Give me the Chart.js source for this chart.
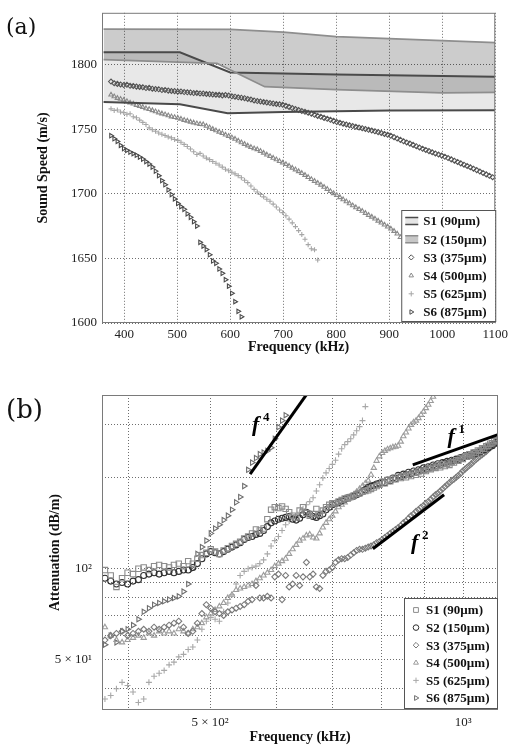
<!DOCTYPE html>
<html>
<head>
<meta charset="utf-8">
<script src="https://cdn.jsdelivr.net/npm/chart.js@4.4.0/dist/chart.umd.min.js"></script>
<style>
  body { margin: 0; background: #fff; }
  #wrap { position: relative; width: 512px; height: 747px; overflow: hidden; }
  canvas { position: absolute; left: 0; }
  .panel { position: absolute; left: 6px; font-family: "DejaVu Serif", serif; color: #111; }
</style>
</head>
<body>
<div id="wrap">
  <canvas id="speedChart" width="512" height="370" style="top:0"></canvas>
  <canvas id="attChart" width="512" height="377" style="top:370px"></canvas>
  <div class="panel" style="top:16px;font-size:22px;line-height:22px">(a)</div>
  <div class="panel" style="top:396px;font-size:26px;line-height:26px">(b)</div>
</div>
<script>
// noms des échantillons (légende)
const sampleNames = ['S1 (90µm)', 'S2 (150µm)', 'S3 (375µm)', 'S4 (500µm)', 'S5 (625µm)', 'S6 (875µm)'];

// grille de fréquences commune (kHz)
const freq = [
  375, 381, 387, 393, 399, 405, 411, 417, 423, 429,
  435, 441, 447, 453, 459, 465, 471, 477, 483, 489,
  495, 501, 507, 513, 519, 525, 531, 537, 543, 549,
  555, 561, 567, 573, 579, 585, 591, 597, 603, 609,
  615, 621, 627, 633, 639, 645, 651, 657, 663, 669,
  675, 681, 687, 693, 699, 705, 711, 717, 723, 729,
  735, 741, 747, 753, 759, 765, 771, 777, 783, 789,
  795, 801, 807, 813, 819, 825, 831, 837, 843, 849,
  855, 861, 867, 873, 879, 885, 891, 897, 903, 909,
  915, 921, 927, 933, 939, 945, 951, 957, 963, 969,
  975, 981, 987, 993, 999, 1005, 1011, 1017, 1023, 1029,
  1035, 1041, 1047, 1053, 1059, 1065, 1071, 1077, 1083, 1089,
  1095
];

// ---- (a) vitesse du son ----
const xTicksA = [400, 500, 600, 700, 800, 900, 1000, 1100];
const yTicksA = [1600, 1650, 1700, 1750, 1800];

// bandes S1 et S2 (bornes haute / basse)
const s1UpperFreq = [361, 505, 600, 800, 1100];
const s1UpperSpeed = [1809.4, 1809.4, 1793.8, 1792.2, 1790.6];
const s1LowerFreq = [361, 505, 595, 700, 900, 1100];
const s1LowerSpeed = [1771, 1769.2, 1762.2, 1763.3, 1764.5, 1764.7];
const s2UpperFreq = [361, 600, 700, 800, 900, 1000, 1100];
const s2UpperSpeed = [1827.4, 1827.2, 1825, 1821.6, 1820, 1818.5, 1817];
const s2LowerFreq = [361, 530, 575, 665, 800, 1000, 1100];
const s2LowerSpeed = [1803.8, 1801.5, 1800.8, 1782.8, 1780.5, 1778, 1778.4];

const speedS3 = [
  1786.8, 1785.5, 1785.0, 1784.6, 1784.1, 1784.3, 1783.5, 1783.4, 1782.9, 1782.6,
  1782.4, 1781.8, 1781.9, 1781.3, 1781.0, 1780.8, 1780.2, 1780.3, 1779.8, 1779.5,
  1779.4, 1779.0, 1779.1, 1778.7, 1778.5, 1778.4, 1777.9, 1778.0, 1777.6, 1777.5,
  1777.2, 1777.1, 1776.8, 1776.6, 1776.5, 1776.1, 1776.4, 1776.0, 1775.4, 1775.1,
  1774.6, 1774.3, 1773.9, 1773.3, 1772.9, 1772.2, 1771.7, 1771.4, 1771.0, 1770.6,
  1770.2, 1769.9, 1769.5, 1769.2, 1768.8, 1768.0, 1767.2, 1766.3, 1765.5, 1764.8,
  1764.0, 1763.4, 1762.7, 1762.0, 1761.1, 1760.2, 1759.5, 1758.7, 1758.0, 1757.2,
  1756.4, 1755.5, 1754.9, 1754.2, 1753.6, 1753.0, 1752.4, 1751.8, 1751.2, 1750.7,
  1750.1, 1749.5, 1748.9, 1748.3, 1747.7, 1747.0, 1746.3, 1745.6, 1744.8, 1743.8,
  1742.7, 1741.7, 1740.6, 1739.7, 1738.8, 1737.8, 1736.8, 1735.8, 1734.8, 1733.9,
  1733.0, 1732.1, 1731.2, 1730.3, 1729.5, 1728.6, 1727.6, 1726.6, 1725.6, 1724.6,
  1723.5, 1722.5, 1721.5, 1720.5, 1719.4, 1718.3, 1717.2, 1716.1, 1715.0, 1713.9,
  1712.8
];
const speedS4 = [
  1776.6, 1775.2, 1774.0, 1773.3, 1772.5, 1771.5, 1770.4, 1769.6, 1768.6, 1767.8,
  1767.0, 1766.0, 1765.4, 1764.5, 1763.6, 1762.8, 1762.0, 1761.3, 1760.5, 1759.7,
  1759.2, 1758.6, 1757.9, 1757.0, 1756.4, 1755.6, 1755.0, 1754.3, 1753.9, 1753.6,
  1752.4, 1751.2, 1750.0, 1748.9, 1747.9, 1746.8, 1745.6, 1744.6, 1743.5, 1742.4,
  1741.0, 1739.6, 1738.4, 1737.2, 1736.0, 1735.0, 1734.3, 1733.0, 1731.6, 1730.2,
  1729.0, 1727.7, 1726.5, 1725.2, 1724.0, 1722.8, 1721.5, 1720.0, 1718.7, 1717.3,
  1715.9, 1714.4, 1712.8, 1711.2, 1709.8, 1708.3, 1706.9, 1705.2, 1703.6, 1701.9,
  1700.3, 1698.8, 1697.2, 1695.6, 1694.0, 1692.5, 1690.9, 1689.4, 1688.0, 1686.6,
  1685.0, 1683.5, 1682.1, 1680.6, 1679.0, 1677.6, 1676.0, 1674.5, 1672.9, 1671.1,
  1669.0, 1666.3
];
const speedS5 = [
  1765.7, 1764.4, 1764.8, 1763.2, 1762.8, 1761.5, 1761.9, 1759.6, 1758.8, 1757.0,
  1755.2, 1753.6, 1751.0, 1749.6, 1748.4, 1747.0, 1746.0, 1745.1, 1744.0, 1743.2,
  1742.0, 1741.3, 1739.8, 1738.2, 1736.5, 1734.6, 1732.5, 1730.4, 1731.2, 1729.2,
  1727.6, 1726.4, 1724.9, 1723.6, 1722.2, 1720.6, 1719.0, 1717.8, 1716.6, 1715.4,
  1714.0, 1712.4, 1710.5, 1708.6, 1706.0, 1703.4, 1701.3, 1699.5, 1697.6, 1695.8,
  1694.2, 1692.0, 1689.7, 1687.4, 1685.4, 1683.0, 1680.4, 1677.5, 1674.6, 1671.5,
  1668.4, 1664.8, 1660.6, 1657.5, 1656.6, 1648.8
];
const speedS6 = [
  1744.9, 1742.6, 1740.5, 1737.4, 1735.0, 1733.6, 1732.2, 1731.0, 1729.8, 1728.4,
  1726.8, 1724.9, 1723.0, 1720.6, 1717.5, 1714.0, 1710.2, 1707.0, 1703.0, 1699.4,
  1696.0, 1692.5, 1690.0, 1688.0, 1684.5, 1681.8, 1678.4, 1675.0, 1662.4, 1659.5,
  1656.8, 1652.8, 1648.0, 1646.2, 1641.8, 1638.4, 1633.5, 1628.5, 1623.0, 1616.5,
  1609.0, 1604.8
];

// ---- (b) atténuation ----
const xTicksB = [400, 500, 600, 700, 800, 900, 1000];
const yTicksB = [40, 50, 60, 70, 80, 90, 100, 200, 300];
const xLabelsB = { 500: '5 × 10²', 1000: '10³' };
const yLabelsB = { 50: '5 × 10¹', 100: '10²' };

const attS1 = [
  99, 95, 87, 93, 97, 96, 100, 101, 99, 102,
  103, 102, 101, 103, 104, 102, 106, 104, 108, 111,
  113, 116, 114, 112, 115, 117, 119, 121, 123, 126,
  128, 131, 135, 134, 136, 146, 157, 160, 159, 161,
  158, 154, 150, 148, 156, 160, 153, 150, 152, 158,
  152, 156, 160, 163, 165, 165, 167, 169, 171, 172,
  173, 175, 177, 178, 180, 181, 182, 184, 186, 188,
  190, 194, 192, 197, 195, 199, 198, 202, 200, 203,
  201, 205, 203, 208, 205, 210, 207, 212, 211, 215,
  214, 218, 216, 220, 217, 222, 219, 223, 221, 226,
  225, 229, 228, 233, 231, 236, 235, 240, 238, 243,
  242, 247, 246, 251, 250, 255, 256, 260, 261, 265,
  267
];
const attS2 = [
  93, 91, 89, 90, 89, 91, 92, 95, 96, 97,
  96, 97, 98, 97, 98, 99, 99, 101, 104, 108,
  112, 114, 113, 112, 114, 116, 118, 120, 122, 125,
  127, 128, 130, 131, 134, 138, 142, 144, 146, 147,
  148, 149, 146, 145, 147, 151, 154, 152, 149, 148,
  150, 152, 157, 160, 163, 165, 166, 168, 170, 172,
  173, 174, 176, 178, 180, 183, 186, 188, 189, 191,
  192, 194, 193, 197, 196, 200, 199, 204, 202, 206,
  205, 209, 207, 211, 209, 213, 212, 216, 214, 218,
  217, 221, 219, 223, 221, 225, 224, 227, 226, 229,
  228, 231, 230, 234, 233, 237, 236, 239, 238, 242,
  241, 244, 244, 248, 248, 252, 252, 256, 256, 260,
  262
];
const attS3 = [
  58, 60, 61, 62, 60, 61, 62, 63, 62, 64,
  63, 64, 65, 66, 67, 64, 61, 62, 66, 71,
  76, 74, 72, 71, 70, 72, 73, 74, 75, 76,
  78, 79, 88, 80, 80, 81, 80, 94, 96, 79,
  95, 87, 89, 95, 88, 94, 105, 94, 96, 87,
  86, 95, 98, 99, 101, 105, 107, 108, 108, 109,
  111, 113, 115, 116, 116, 117, 118, 119, 120, 122,
  123, 125, 127, 129, 131, 133, 135, 137, 139, 142,
  144, 147, 150, 152, 155, 157, 160, 162, 165, 167,
  170, 173, 176, 178, 181, 184, 187, 190, 193, 196,
  198, 201, 204, 207, 211, 214, 217, 220, 223, 227,
  230, 233, 236, 239, 242, 245, 249, 252, 256, 260,
  264
];
const attS4 = [
  64, 60, 58, 57, 58, 59, 60, 59, 61, 60,
  62, 61, 62, 61, 63, 62, 61, 63, 64, 66,
  69, 71, 73, 75, 77, 80, 82, 85, 86, 87,
  88, 89, 91, 93, 95, 97, 99, 102, 104, 106,
  108, 112, 116, 120, 124, 126, 129, 130, 127, 126,
  131, 137, 142, 146, 150, 155, 160, 163, 166, 169,
  172, 176, 180, 184, 188, 192, 196, 205, 216, 228,
  236, 242, 246, 249, 251, 253, 254, 256, 264, 275,
  283, 292, 300, 306, 310, 316, 324, 332, 341, 350,
  360, 372
];
const attS5 = [
  37, 38, 40, 42, 41, 39, 36, 37, 42, 44,
  45, 46, 48, 49, 51, 52, 54, 55, 58, 63,
  67, 69, 68, 67, 72, 77, 82, 89, 95, 98,
  100, 101, 102, 104, 107, 112, 119, 124, 128, 134,
  140, 144, 147, 150, 154, 158, 163, 167, 172, 181,
  190, 200, 208, 215, 222, 229, 240, 250, 258, 264,
  270, 278, 287, 296, 310, 345
];
const attS6 = [
  56, 60, 57, 62, 63, 65, 68, 72, 74, 76,
  77, 78, 79, 80, 81, 84, 89, 100, 112, 118,
  124, 131, 136, 140, 145, 150, 157, 166, 173, 188,
  213, 225, 233, 240, 243, 246, 252, 270, 295, 310,
  323
];

// droites de pente f^4, f^1, f^2
const fitF4Freq = [558, 652];
const fitF4Att = [206, 380];
const fitF1Freq = [871, 1098];
const fitF1Att = [221, 278];
const fitF2Freq = [781, 949];
const fitF2Att = [116.5, 176];
const fitLabelFreq = [561, 958, 867];
const fitLabelAtt = [286, 261, 116.5];
const fitLabelPow = ['4', '1', '2'];

const serif = '"Liberation Serif", "Times New Roman", serif';
const pts = (xs, ys) => ys.map((y, i) => ({ x: xs[i], y: y }));

// cadre complet autour de la zone de tracé
const frame = {
  id: 'frame',
  afterDatasetsDraw(chart) {
    const { ctx, chartArea: a } = chart;
    ctx.save();
    ctx.strokeStyle = '#7a7a7a';
    ctx.lineWidth = 1;
    ctx.strokeRect(a.left + 0.5, a.top + 0.5, a.right - a.left - 1, a.bottom - a.top - 1);
    ctx.restore();
  }
};

// légende encadrée en bas à droite
const boxLegend = {
  id: 'boxLegend',
  afterDraw(chart, args, o) {
    if (!o.items) return;
    const { ctx, chartArea: a } = chart;
    const x0 = a.right - o.width - o.right;
    const y0 = a.bottom - o.height - o.bottom;
    ctx.save();
    ctx.fillStyle = '#fff';
    ctx.fillRect(x0, y0, o.width, o.height);
    ctx.strokeStyle = '#555';
    ctx.lineWidth = 1;
    ctx.strokeRect(x0 + 0.5, y0 + 0.5, o.width, o.height);
    o.items.forEach((it, i) => {
      const cy = y0 + o.first + i * o.step;
      const sx = x0 + o.symX;
      if (it.kind === 'band') {
        ctx.fillStyle = it.fill;
        ctx.fillRect(sx - 6, cy - 4, 13, 8);
        ctx.strokeStyle = it.line;
        ctx.lineWidth = 1.5;
        ctx.beginPath();
        ctx.moveTo(sx - 6, cy - 3.5); ctx.lineTo(sx + 7, cy - 3.5);
        ctx.moveTo(sx - 6, cy + 3.5); ctx.lineTo(sx + 7, cy + 3.5);
        ctx.stroke();
      } else {
        ctx.strokeStyle = it.color;
        ctx.fillStyle = 'rgba(0,0,0,0)';
        ctx.lineWidth = 1;
        Chart.helpers.drawPoint(ctx, { pointStyle: it.style, rotation: it.rotation || 0, radius: it.radius, borderWidth: 1 }, sx, cy);
      }
      ctx.fillStyle = '#111';
      ctx.font = 'bold 13px ' + serif;
      ctx.textBaseline = 'middle';
      ctx.textAlign = 'left';
      ctx.fillText(it.label, x0 + o.textX, cy + 1);
    });
    ctx.restore();
  }
};

// étiquettes f^n à côté des droites
const powerLabels = {
  id: 'powerLabels',
  afterDatasetsDraw(chart, args, o) {
    if (!o.freq) return;
    const { ctx, scales } = chart;
    ctx.save();
    ctx.fillStyle = '#000';
    ctx.textAlign = 'left';
    ctx.textBaseline = 'alphabetic';
    o.freq.forEach((f, i) => {
      const px = scales.x.getPixelForValue(f);
      const py = scales.y.getPixelForValue(o.att[i]);
      ctx.font = 'italic bold 22px ' + serif;
      ctx.fillText('f', px, py);
      ctx.font = 'bold 13px ' + serif;
      ctx.fillText(o.pow[i], px + 11, py - 10);
    });
    ctx.restore();
  }
};

const tickFont = { family: serif, size: 13 };
const titleFont = { family: serif, size: 14, weight: 'bold' };
const gridOpts = { color: '#6e6e6e', drawTicks: false };
const borderOpts = { display: false, dash: [1, 2] };

function markers(label, data, style, color, radius, rotation) {
  return {
    type: 'scatter', label, data,
    pointStyle: style, pointRotation: rotation || 0, radius,
    borderColor: color, backgroundColor: 'rgba(255,255,255,0)', borderWidth: 1.1,
    showLine: false
  };
}

function bandLine(label, data, color, width, fill, bg) {
  return {
    type: 'line', label, data, borderColor: color, borderWidth: width,
    pointRadius: 0, fill: fill, backgroundColor: bg, tension: 0
  };
}

// styles des échantillons
const bandFill = ['rgba(0,0,0,0.09)', 'rgba(0,0,0,0.2)'];
const bandEdge = ['#4a4a4a', '#8e8e8e'];
const colorsA = ['#555', '#8a8a8a', '#a6a6a6', '#4a4a4a'];
const colorsB = ['#8c8c8c', '#303030', '#7a7a7a', '#9c9c9c', '#a8a8a8', '#6e6e6e'];
const stylesB = ['rect', 'circle', 'rectRot', 'triangle', 'cross', 'triangle'];
const rotB = [0, 0, 0, 0, 0, 90];

// ---------- graphique (a) ----------
new Chart(document.getElementById('speedChart'), {
  type: 'scatter',
  data: {
    datasets: [
      bandLine(sampleNames[1], pts(s2UpperFreq, s2UpperSpeed), bandEdge[1], 1.8, '+1', bandFill[1]),
      bandLine(sampleNames[1], pts(s2LowerFreq, s2LowerSpeed), bandEdge[1], 1.8, false, 'transparent'),
      bandLine(sampleNames[0], pts(s1UpperFreq, s1UpperSpeed), bandEdge[0], 2, '+1', bandFill[0]),
      bandLine(sampleNames[0], pts(s1LowerFreq, s1LowerSpeed), bandEdge[0], 2, false, 'transparent'),
      markers(sampleNames[2], pts(freq, speedS3), 'rectRot', colorsA[0], 2.5),
      markers(sampleNames[3], pts(freq, speedS4), 'triangle', colorsA[1], 2.5),
      markers(sampleNames[4], pts(freq, speedS5), 'cross', colorsA[2], 2.5),
      markers(sampleNames[5], pts(freq, speedS6), 'triangle', colorsA[3], 2.5, 90)
    ]
  },
  options: {
    responsive: false,
    animation: false,
    devicePixelRatio: 1,
    layout: { padding: { left: 35, right: 15, top: 9, bottom: 0 } },
    plugins: {
      legend: { display: false },
      tooltip: { enabled: false },
      filler: { drawTime: 'beforeDatasetsDraw' },
      boxLegend: {
        width: 94, height: 111, right: 0, bottom: 2, first: 11, step: 18.2, symX: 10, textX: 22,
        items: [
          { kind: 'band', label: sampleNames[0], fill: 'rgba(0,0,0,0.1)', line: bandEdge[0] },
          { kind: 'band', label: sampleNames[1], fill: 'rgba(0,0,0,0.22)', line: bandEdge[1] },
          { label: sampleNames[2], style: 'rectRot', color: colorsA[0], radius: 2.6 },
          { label: sampleNames[3], style: 'triangle', color: colorsA[1], radius: 2.6 },
          { label: sampleNames[4], style: 'cross', color: colorsA[2], radius: 2.6 },
          { label: sampleNames[5], style: 'triangle', rotation: 90, color: colorsA[3], radius: 2.6 }
        ]
      }
    },
    scales: {
      x: {
        type: 'linear', min: 358, max: 1100,
        afterBuildTicks: s => { s.ticks = xTicksA.map(v => ({ value: v })); },
        afterFit: s => { s.height = 47; },
        grid: gridOpts, border: borderOpts,
        ticks: { font: tickFont, color: '#222', padding: 4, maxRotation: 0, autoSkip: false, callback: v => String(v) },
        title: { display: true, text: 'Frequency (kHz)', font: titleFont, color: '#111', padding: { top: 0, bottom: 14 } }
      },
      y: {
        type: 'linear', min: 1600, max: 1840,
        afterBuildTicks: s => { s.ticks = yTicksA.map(v => ({ value: v })); },
        afterFit: s => { s.width = 67; },
        grid: gridOpts, border: borderOpts,
        ticks: { font: tickFont, color: '#222', padding: 5, autoSkip: false, callback: v => String(v) },
        title: { display: true, text: 'Sound Speed (m/s)', font: titleFont, color: '#111', padding: { top: 0, bottom: 0 } }
      }
    }
  },
  plugins: [frame, boxLegend]
});

// ---------- graphique (b) ----------
const attSeries = [attS1, attS2, attS3, attS4, attS5, attS6];
const attDatasets = attSeries.map((vals, i) =>
  markers(sampleNames[i], pts(freq, vals), stylesB[i], colorsB[i], i === 0 ? 3.8 : 3, rotB[i]));

new Chart(document.getElementById('attChart'), {
  type: 'scatter',
  data: {
    datasets: [
      bandLine('f4', pts(fitF4Freq, fitF4Att), '#000', 3, false, 'transparent'),
      bandLine('f1', pts(fitF1Freq, fitF1Att), '#000', 3, false, 'transparent'),
      bandLine('f2', pts(fitF2Freq, fitF2Att), '#000', 3, false, 'transparent'),
      ...attDatasets
    ]
  },
  options: {
    responsive: false,
    animation: false,
    devicePixelRatio: 1,
    layout: { padding: { left: 47, right: 14, top: 25, bottom: 0 } },
    plugins: {
      legend: { display: false },
      tooltip: { enabled: false },
      powerLabels: { freq: fitLabelFreq, att: fitLabelAtt, pow: fitLabelPow },
      boxLegend: {
        width: 93, height: 110, right: 1, bottom: 2, first: 12, step: 17.6, symX: 12, textX: 22,
        items: sampleNames.map((n, i) => ({ label: n, style: stylesB[i], rotation: rotB[i], color: colorsB[i], radius: i === 0 ? 3.4 : 2.8 }))
      }
    },
    scales: {
      x: {
        type: 'logarithmic', min: 372, max: 1100,
        afterBuildTicks: s => { s.ticks = xTicksB.map(v => ({ value: v })); },
        afterFit: s => { s.height = 37; },
        grid: gridOpts, border: borderOpts,
        ticks: { font: tickFont, color: '#222', padding: 5, maxRotation: 0, autoSkip: false, callback: v => xLabelsB[v] || '' },
        title: { display: true, text: 'Frequency (kHz)', font: titleFont, color: '#111', padding: { top: 0, bottom: 1 } }
      },
      y: {
        type: 'logarithmic', min: 34, max: 377,
        afterBuildTicks: s => { s.ticks = yTicksB.map(v => ({ value: v })); },
        afterFit: s => { s.width = 55; },
        grid: gridOpts, border: borderOpts,
        ticks: { font: tickFont, color: '#222', padding: 10, autoSkip: false, callback: v => yLabelsB[v] || '' },
        title: { display: true, text: 'Attenuation (dB/m)', font: titleFont, color: '#111', padding: { top: 0, bottom: 0 } }
      }
    }
  },
  plugins: [frame, boxLegend, powerLabels]
});
</script>
</body>
</html>
